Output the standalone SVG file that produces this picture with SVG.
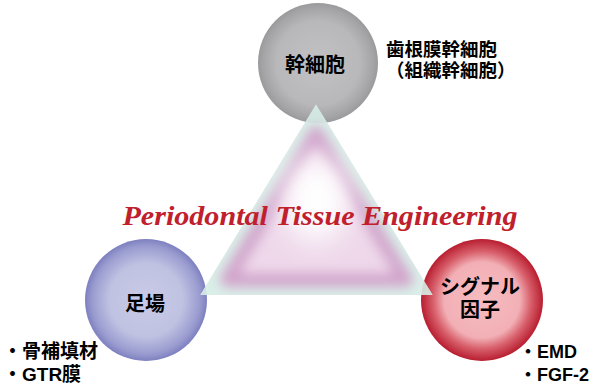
<svg xmlns="http://www.w3.org/2000/svg" width="596" height="389" viewBox="0 0 596 389">
<defs>
<radialGradient id="gGray" cx="0.5" cy="0.5" r="0.5">
<stop offset="0" stop-color="#c2c2c4"/><stop offset="0.7" stop-color="#b8b8ba"/><stop offset="0.92" stop-color="#a4a4a6"/><stop offset="1" stop-color="#9a9a9c"/>
</radialGradient>
<radialGradient id="gBlue" cx="0.5" cy="0.5" r="0.5">
<stop offset="0" stop-color="#c8cae6"/><stop offset="0.6" stop-color="#c0c2e2"/><stop offset="0.88" stop-color="#9a9cd0"/><stop offset="1" stop-color="#7e80c0"/>
</radialGradient>
<radialGradient id="gRed" cx="0.5" cy="0.5" r="0.5">
<stop offset="0" stop-color="#f6bcc0"/><stop offset="0.62" stop-color="#f2b0b6"/><stop offset="0.8" stop-color="#d8606c"/><stop offset="1" stop-color="#b81e30"/>
</radialGradient>
<clipPath id="triClip"><polygon points="316,104 200,295 433,295"/></clipPath>
<filter id="blur6" x="-30%" y="-30%" width="160%" height="160%"><feGaussianBlur stdDeviation="6"/></filter>
<filter id="blur14" x="-50%" y="-50%" width="200%" height="200%"><feGaussianBlur stdDeviation="14"/></filter>
</defs>
<style>
.lbl{font-family:"Liberation Sans","Noto Sans CJK JP",sans-serif;font-weight:bold;fill:#000}
.title{font-family:"Liberation Serif",serif;font-weight:bold;font-style:italic;fill:#c0202c}
</style>
<g id="node-stem">
<circle cx="318" cy="63" r="60" fill="url(#gGray)"/>
<text class="lbl" x="315" y="72" font-size="20" text-anchor="middle">幹細胞</text>
</g>
<g id="node-scaffold">
<circle cx="146" cy="300" r="61" fill="url(#gBlue)"/>
<text class="lbl" x="145" y="311" font-size="20" text-anchor="middle">足場</text>
</g>
<g id="node-signal">
<circle cx="482" cy="300" r="61" fill="url(#gRed)"/>
<text class="lbl" x="480" y="294" font-size="20" text-anchor="middle">シグナル</text>
<text class="lbl" x="480" y="317" font-size="20" text-anchor="middle">因子</text>
</g>
<g id="connectors">
<g id="triangle" clip-path="url(#triClip)">
<polygon points="316,104 200,295 433,295" fill="#d6ede6" fill-opacity="0.9"/>
<polygon points="316,133 227,280 406,280" fill="#eed8ea" stroke="#d2a4cc" stroke-width="14" stroke-linejoin="round" filter="url(#blur6)"/>
<ellipse cx="316" cy="200" rx="32" ry="42" fill="#ffffff" filter="url(#blur14)"/>
</g>
</g>
<g id="title">
<text class="title" x="320" y="225" font-size="27" text-anchor="middle" textLength="395" lengthAdjust="spacingAndGlyphs">Periodontal Tissue Engineering</text>
</g>
<g id="note-stem">
<text class="lbl" x="386" y="56" font-size="18.5">歯根膜幹細胞</text>
<text class="lbl" x="386" y="77" font-size="18.5">（組織幹細胞）</text>
</g>
<g id="note-scaffold">
<text class="lbl" x="3" y="358" font-size="19">・骨補填材</text>
<text class="lbl" x="3" y="381" font-size="19">・GTR膜</text>
</g>
<g id="note-signal">
<text class="lbl" x="519" y="358" font-size="18">・EMD</text>
<text class="lbl" x="519" y="381" font-size="18">・FGF-2</text>
</g>
</svg>
